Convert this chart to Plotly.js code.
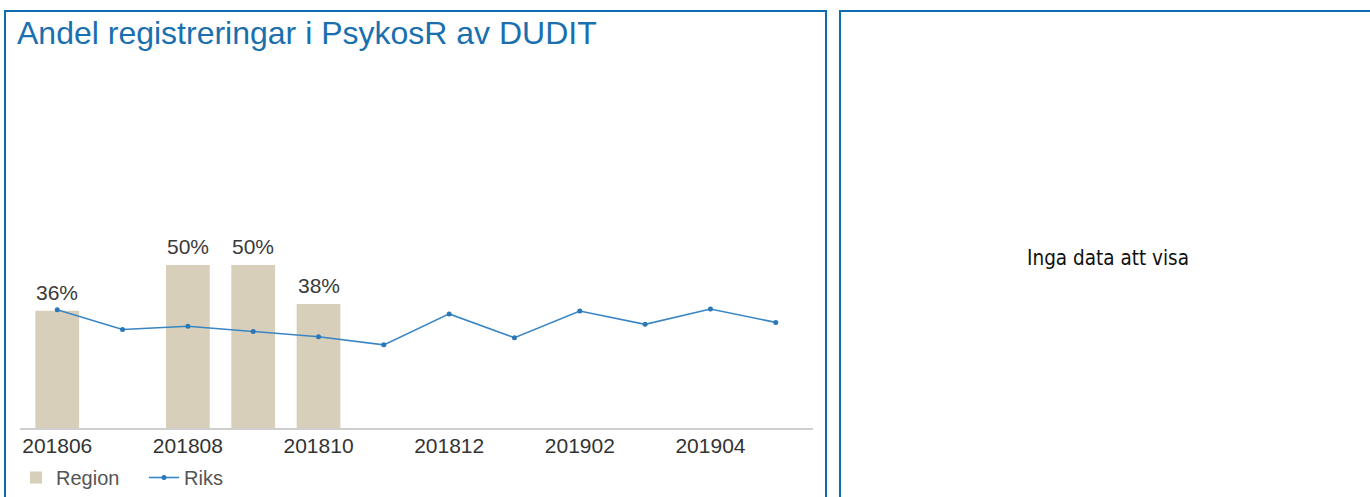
<!DOCTYPE html>
<html>
<head>
<meta charset="utf-8">
<script src="https://cdn.plot.ly/plotly-3.0.1.min.js"></script>
<style>
  html, body { margin: 0; padding: 0; background: #fff; overflow: hidden; }
  #chart { position: absolute; left: 0; top: 0; width: 1370px; height: 497px; }
  .panel { position: absolute; top: 10px; height: 520px; border: 2px solid #106cb0; border-bottom: none; pointer-events: none; box-sizing: border-box; }
</style>
</head>
<body>
<div id="chart"></div>
<div class="panel" style="left:4px; width:823px;"></div>
<div class="panel" style="left:839px; width:600px;"></div>
<script>
// Data
var months = ['201806','201807','201808','201809','201810','201811','201812','201901','201902','201903','201904','201905'];
var regionValues = [0.36, null, 0.50, 0.50, 0.38, null, null, null, null, null, null, null];
var riksValues = [0.363, 0.302, 0.312, 0.296, 0.280, 0.255, 0.350, 0.277, 0.359, 0.318, 0.365, 0.324];
var tickLabels = ['201806','201808','201810','201812','201902','201904'];

var W = 1370, H = 497;
var plotLeft = 20, plotRight = 813, plotBottom = 428, plotTop = 60;
var pxPerUnit = 326; // pixels per 100 %

var traces = [
  {
    type: 'bar',
    name: 'Region',
    x: months,
    y: regionValues,
    width: 0.67,
    marker: { color: '#d8cfba', line: { width: 0 } },
    hoverinfo: 'none'
  },
  {
    type: 'scatter',
    mode: 'lines+markers',
    name: 'Riks',
    x: months,
    y: riksValues,
    line: { color: '#3a86c4', width: 1.6 },
    marker: { color: '#2a78b8', size: 5, symbol: 'circle' },
    hoverinfo: 'none'
  }
];

// value labels above the bars (category index on the x axis)
var labelAnnotations = [];
months.forEach(function (m, i) {
  var v = regionValues[i];
  if (v == null) return;
  labelAnnotations.push({
    x: i, y: v, xref: 'x', yref: 'y',
    text: Math.round(v * 100) + '%',
    showarrow: false,
    xanchor: 'center', yanchor: 'bottom',
    yshift: 5,
    font: { family: 'Liberation Sans, Arial, sans-serif', size: 21, color: '#3a3a3a' }
  });
});

var layout = {
  width: W,
  height: H,
  paper_bgcolor: 'rgba(0,0,0,0)',
  plot_bgcolor: 'rgba(0,0,0,0)',
  margin: { l: plotLeft, r: W - plotRight, t: plotTop, b: H - plotBottom, pad: 0, autoexpand: false },
  font: { family: 'Liberation Sans, Arial, sans-serif', color: '#333' },
  title: {
    text: 'Andel registreringar i PsykosR av DUDIT',
    font: { family: 'Liberation Sans, Arial, sans-serif', size: 32, color: '#1a6faf' },
    xref: 'container', yref: 'container',
    x: 17 / W, xanchor: 'left',
    y: 1 - 22 / H, yanchor: 'top'
  },
  showlegend: true,
  legend: {
    orientation: 'h',
    x: (16 - plotLeft) / (plotRight - plotLeft),
    xanchor: 'left',
    y: -(458 - plotBottom) / (plotBottom - plotTop),
    yanchor: 'top',
    font: { family: 'Liberation Sans, Arial, sans-serif', size: 20, color: '#555' },
    bgcolor: 'rgba(0,0,0,0)',
    traceorder: 'normal',
    itemwidth: 30,
    entrywidth: 83,
    entrywidthmode: 'pixels'
  },
  bargap: 0.33,
  xaxis: {
    type: 'category',
    categoryorder: 'array',
    categoryarray: months,
    range: [-0.57, months.length - 1 + 0.57],
    tickvals: tickLabels,
    ticktext: tickLabels,
    showline: true,
    linecolor: '#cfcfcf',
    linewidth: 1.5,
    ticks: '',
    showgrid: false,
    zeroline: false,
    automargin: false,
    ticklabelstandoff: -2,
    tickfont: { family: 'Liberation Sans, Arial, sans-serif', size: 21, color: '#333' },
    fixedrange: true
  },
  yaxis: {
    range: [0, (plotBottom - plotTop) / pxPerUnit],
    showgrid: false,
    zeroline: false,
    showline: false,
    showticklabels: false,
    ticks: '',
    automargin: false,
    fixedrange: true
  },
  annotations: labelAnnotations.concat([
    {
      text: 'Inga data att visa',
      xref: 'paper', yref: 'paper',
      x: (1108 - plotLeft) / (plotRight - plotLeft),
      y: (plotBottom - 258) / (plotBottom - plotTop),
      xanchor: 'center', yanchor: 'middle',
      showarrow: false,
      font: { family: 'DejaVu Sans Condensed, DejaVu Sans, sans-serif', size: 20.5, color: '#111' }
    }
  ])
};

Plotly.newPlot('chart', traces, layout, { displayModeBar: false, staticPlot: true });
</script>
</body>
</html>
